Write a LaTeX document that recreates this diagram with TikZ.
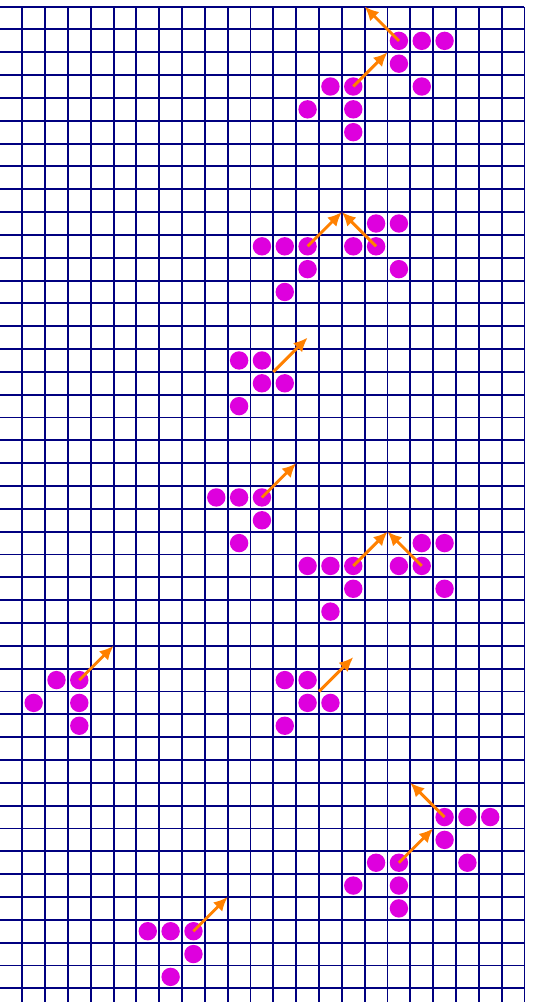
\documentclass[tikz,border=0pt]{standalone}
\usetikzlibrary{arrows.meta}
\definecolor{gridblue}{RGB}{0,0,128}
\definecolor{dotmag}{RGB}{222,0,222}
\definecolor{arrorange}{RGB}{255,128,0}
\tikzset{
  gridline/.style={gridblue, line width=1.9pt},
  dot/.style={circle, fill=dotmag, draw=none, inner sep=0pt, minimum size=18.4pt},
  arr/.style={arrorange, line width=2.9pt, -{Latex[length=14pt,width=13pt]}}
}
\begin{document}
\begin{tikzpicture}[x=1pt,y=-1pt]
\useasboundingbox (0,0) rectangle (536,1002);
\begin{scope}
\clip (0,0) rectangle (536,1002);
\begin{scope}[shift={(-0.6,6.6)}, x=22.83pt, y=-22.83pt]
  % grid
  \foreach \i in {0,...,23} \draw[gridline] (\i,0) -- (\i,45);
  \foreach \j in {0,...,45} \draw[gridline] (0,\j) -- (23,\j);
  % dots
  \foreach \c/\r in {17/1,18/1,19/1,17/2,14/3,15/3,18/3,13/4,15/4,15/5,
                     16/9,17/9,11/10,12/10,13/10,15/10,16/10,13/11,17/11,12/12,
                     10/15,11/15,11/16,12/16,10/17,
                     9/21,10/21,11/21,11/22,10/23,
                     18/23,19/23,13/24,14/24,15/24,17/24,18/24,15/25,19/25,14/26,
                     2/29,3/29,1/30,3/30,3/31,
                     12/29,13/29,13/30,14/30,12/31,
                     19/35,20/35,21/35,19/36,16/37,17/37,20/37,15/38,17/38,17/39,
                     6/40,7/40,8/40,8/41,7/42}
    \node[dot] (d\c-\r) at (\c+0.5,\r+0.5) {};
  % arrow end points
  \coordinate (k16-0) at (16,0);
  \coordinate (k17-2) at (17,2);
  \coordinate (k15-9) at (15,9);
  \coordinate (k12-16) at (12,16);
  \coordinate (m13-14) at (13.5,14.5);
  \coordinate (k13-20) at (13,20);
  \coordinate (k17-23) at (17,23);
  \coordinate (k5-28) at (5,28);
  \coordinate (k14-30) at (14,30);
  \coordinate (m15-28) at (15.5,28.5);
  \coordinate (k18-34) at (18,34);
  \coordinate (k19-36) at (19,36);
  \coordinate (k10-39) at (10,39);
  % arrows
  \draw[arr] (d17-1.center) -- (k16-0);
  \draw[arr] (d15-3.center) -- (k17-2);
  \draw[arr] (d13-10.center) -- (k15-9);
  \draw[arr] (d16-10.center) -- (k15-9);
  \draw[arr] (k12-16) -- (m13-14);
  \draw[arr] (d11-21.center) -- (k13-20);
  \draw[arr] (d15-24.center) -- (k17-23);
  \draw[arr] (d18-24.center) -- (k17-23);
  \draw[arr] (d3-29.center) -- (k5-28);
  \draw[arr] (k14-30) -- (m15-28);
  \draw[arr] (d19-35.center) -- (k18-34);
  \draw[arr] (d17-37.center) -- (k19-36);
  \draw[arr] (d8-40.center) -- (k10-39);
\end{scope}
\end{scope}
\end{tikzpicture}
\end{document}
